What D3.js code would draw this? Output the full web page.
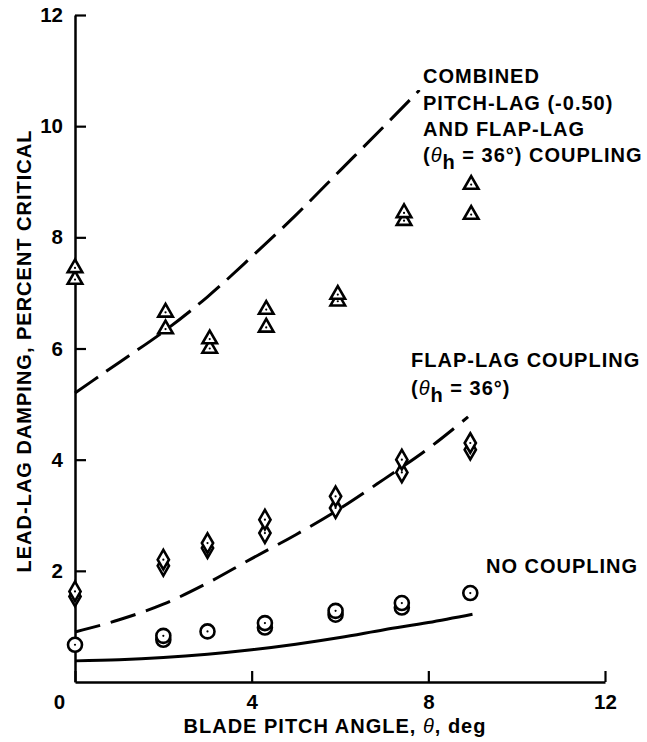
<!DOCTYPE html>
<html>
<head>
<meta charset="utf-8">
<script src="https://cdn.jsdelivr.net/npm/d3@7"></script>
<style>
  html, body { margin: 0; padding: 0; background: #fff; }
  svg text { font-family: "Liberation Sans", Arial, Helvetica, sans-serif; font-weight: bold; fill: #000; }
</style>
</head>
<body>
<svg id="chart" width="647" height="742"></svg>
<script>
// Lead-lag damping versus blade pitch angle for three coupling cases.

const xTicks = [0, 4, 8, 12];
const yTicks = [2, 4, 6, 8, 10, 12];

// Theory: no coupling (solid)
const noCouplingTheta = [0, 1, 2, 3, 4, 5, 6, 7, 8, 9];
const noCouplingDamping = [0.38, 0.40, 0.44, 0.50, 0.58, 0.68, 0.80, 0.94, 1.07, 1.22];

// Theory: flap-lag coupling (dashed)
const flapLagTheta = [0, 1, 2, 3, 4, 5, 6, 7, 8, 8.9];
const flapLagDamping = [0.90, 1.12, 1.40, 1.78, 2.22, 2.65, 3.12, 3.65, 4.20, 4.77];

// Theory: combined pitch-lag and flap-lag coupling (dashed)
const combinedTheta = [0, 1, 2, 3, 4, 5, 6, 7, 7.8];
const combinedDamping = [5.20, 5.75, 6.30, 6.93, 7.65, 8.40, 9.20, 10.00, 10.65];

// Test points: no coupling (circles)
const circleTheta = [0, 2.0, 2.0, 3.0, 4.3, 4.3, 5.9, 5.9, 7.4, 7.4, 8.95];
const circleDamping = [0.67, 0.76, 0.83, 0.91, 0.98, 1.06, 1.21, 1.28, 1.34, 1.42, 1.60];

// Test points: flap-lag coupling (diamonds)
const diamondTheta = [0, 0, 2.0, 2.0, 3.0, 3.0, 4.3, 4.3, 5.9, 5.9, 7.4, 7.4, 8.95, 8.95];
const diamondDamping = [1.54, 1.63, 2.09, 2.20, 2.41, 2.50, 2.68, 2.92, 3.13, 3.34, 3.77, 4.00, 4.18, 4.30];

// Test points: combined coupling (triangles)
const triangleTheta = [0, 0, 2.05, 2.05, 3.05, 3.05, 4.33, 4.33, 5.95, 5.95, 7.45, 7.45, 8.97, 8.97];
const triangleDamping = [7.24, 7.45, 6.35, 6.65, 6.00, 6.17, 6.38, 6.70, 6.85, 6.97, 8.30, 8.44, 8.41, 8.95];

const svg = d3.select("#chart");

const x = d3.scaleLinear().domain([0, 12]).range([75, 605]);
const y = d3.scaleLinear().domain([0, 12]).range([682, 15]);

// Axes with inward ticks
const xAxis = d3.axisBottom(x).tickValues(xTicks).tickSizeInner(-11).tickSizeOuter(0).tickPadding(12);
const yAxis = d3.axisLeft(y).tickValues(yTicks).tickSizeInner(-11).tickSizeOuter(0).tickPadding(12);

const gx = svg.append("g").attr("transform", `translate(0,${y(0)})`).call(xAxis);
const gy = svg.append("g").attr("transform", `translate(${x(0)},0)`).call(yAxis);

[gx, gy].forEach(g => {
  g.select(".domain").attr("stroke", "#000").attr("stroke-width", 2.5);
  g.selectAll(".tick line").attr("stroke", "#000").attr("stroke-width", 2.2);
  g.selectAll(".tick text").attr("font-size", 20.5).attr("fill", "#000")
    .style("font-family", '"Liberation Sans", Arial, sans-serif').style("font-weight", "bold");
});
// the origin label sits left of the vertical axis
gx.selectAll(".tick").filter(d => d === 0).select("text").attr("x", -16);

// Axis titles
svg.append("text")
  .attr("x", 335).attr("y", 733)
  .attr("text-anchor", "middle").attr("font-size", 20).attr("letter-spacing", 1)
  .call(t => {
    t.append("tspan").text("BLADE PITCH ANGLE, ");
    t.append("tspan").attr("font-style", "italic").attr("font-weight", "normal").text("θ");
    t.append("tspan").text(", deg");
  });

svg.append("text")
  .attr("transform", `translate(31,351) rotate(-90)`)
  .attr("text-anchor", "middle").attr("font-size", 20).attr("letter-spacing", 1)
  .text("LEAD-LAG DAMPING, PERCENT CRITICAL");

// Theory curves
const line = d3.line().x(d => x(d[0])).y(d => y(d[1])).curve(d3.curveMonotoneX);

svg.append("path")
  .datum(d3.zip(noCouplingTheta, noCouplingDamping))
  .attr("d", line).attr("fill", "none").attr("stroke", "#000").attr("stroke-width", 3);

svg.append("path")
  .datum(d3.zip(flapLagTheta, flapLagDamping))
  .attr("d", line).attr("fill", "none").attr("stroke", "#000").attr("stroke-width", 3)
  .attr("stroke-dasharray", "26,11");

svg.append("path")
  .datum(d3.zip(combinedTheta, combinedDamping))
  .attr("d", line).attr("fill", "none").attr("stroke", "#000").attr("stroke-width", 3)
  .attr("stroke-dasharray", "28,10");

// Test points: lower value drawn first so the upper marker overlaps it
function drawMarkers(thetas, values, symbolType, size) {
  const pts = d3.zip(thetas, values).sort((a, b) => a[1] - b[1]);
  const g = svg.append("g");
  const sym = d3.symbol().type(symbolType).size(size);
  const m = g.selectAll("g").data(pts).join("g")
    .attr("transform", d => `translate(${x(d[0])},${y(d[1])})`);
  m.append("path").attr("d", sym).attr("fill", "#fff").attr("stroke", "#000")
    .attr("stroke-width", 2.6).attr("stroke-linejoin", "miter");
  m.append("circle").attr("r", 1.1).attr("fill", "#000");
}

drawMarkers(circleTheta, circleDamping, d3.symbolCircle, Math.PI * 7 * 7);
drawMarkers(diamondTheta, diamondDamping, d3.symbolDiamond, 110);
drawMarkers(triangleTheta, triangleDamping, d3.symbolTriangle, 92);

// Curve annotations
function thetaH(t, rest) {
  t.append("tspan").text("(");
  t.append("tspan").attr("font-style", "italic").attr("font-weight", "normal").text("θ");
  t.append("tspan").attr("dy", 7).text("h");
  t.append("tspan").attr("dy", -7).text(" = 36°)" + rest);
}

const labels = svg.append("g").attr("font-size", 20).attr("letter-spacing", 1);

labels.append("text").attr("x", 423).attr("y", 83).text("COMBINED");
labels.append("text").attr("x", 423).attr("y", 110).text("PITCH-LAG (-0.50)");
labels.append("text").attr("x", 423).attr("y", 136).text("AND FLAP-LAG");
labels.append("text").attr("x", 423).attr("y", 162).call(t => thetaH(t, " COUPLING"));

labels.append("text").attr("x", 411).attr("y", 367).text("FLAP-LAG COUPLING");
labels.append("text").attr("x", 411).attr("y", 395).call(t => thetaH(t, ""));

labels.append("text").attr("x", 486).attr("y", 573).text("NO COUPLING");
</script>
</body>
</html>
